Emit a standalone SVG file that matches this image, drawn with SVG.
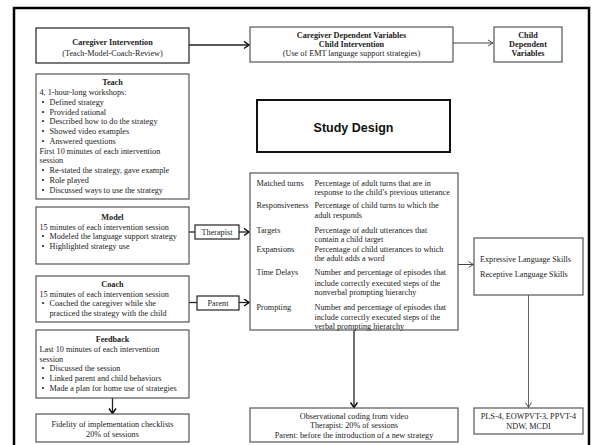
<svg xmlns="http://www.w3.org/2000/svg" width="602" height="445" viewBox="0 0 602 445">
<style>
text{font-family:"Liberation Serif","Times New Roman",serif;font-size:8.2px;fill:#222}
.b{font-weight:bold}
.c{text-anchor:middle}
.box{fill:#fff;stroke:#555;stroke-width:1.2}
.dark{fill:#fff;stroke:#222;stroke-width:1.2}
.ln{fill:none;stroke:#222;stroke-width:1.3}
.thin{fill:none;stroke:#444;stroke-width:1}
.gray{fill:none;stroke:#666;stroke-width:1}
</style>
<defs>
<marker id="ah" markerUnits="userSpaceOnUse" markerWidth="10" markerHeight="10" refX="6" refY="4" orient="auto">
<path d="M1,0.5 L6,4 L1,7.5" fill="none" stroke="#111" stroke-width="1.5"/>
</marker>
<marker id="at" markerUnits="userSpaceOnUse" markerWidth="10" markerHeight="10" refX="6" refY="4" orient="auto">
<path d="M1,1 L6,4 L1,7" fill="none" stroke="#444" stroke-width="0.9"/>
</marker>
</defs>
<rect x="14" y="8" width="575" height="450" fill="#fff" stroke="#000" stroke-width="2.5"/>

<g id="connectors">
<line class="ln" x1="189" y1="45" x2="249" y2="45" marker-end="url(#ah)"/>
<line class="thin" x1="453" y1="43" x2="493" y2="43" marker-end="url(#at)"/>
<line class="ln" x1="189" y1="232" x2="195" y2="232"/>
<line class="ln" x1="239" y1="232" x2="249" y2="232" marker-end="url(#ah)"/>
<line class="ln" x1="189" y1="302.5" x2="197" y2="302.5"/>
<line class="ln" x1="239" y1="302.5" x2="249" y2="302.5" marker-end="url(#ah)"/>
<line class="ln" x1="112.5" y1="398" x2="112.5" y2="413.5" marker-end="url(#ah)"/>
<line class="ln" x1="354" y1="330" x2="354" y2="407.5" stroke-width="1.5" marker-end="url(#ah)"/>
<line class="thin" x1="458" y1="264.5" x2="473.5" y2="264.5" marker-end="url(#at)"/>
<line class="gray" x1="528.5" y1="295" x2="528.5" y2="407.5" marker-end="url(#at)"/>
</g>

<g id="caregiver-intervention">
<rect class="dark" x="36" y="28" width="153" height="35"/>
<text class="b c" x="112.5" y="45">Caregiver Intervention</text>
<text class="c" x="112.5" y="55.5">(Teach-Model-Coach-Review)</text>
</g>

<g id="caregiver-dependent">
<rect class="box" x="250" y="27" width="203" height="35"/>
<text class="b c" x="351.5" y="38">Caregiver Dependent Variables</text>
<text class="b c" x="351.5" y="47">Child Intervention</text>
<text class="c" x="351.5" y="56">(Use of EMT language support strategies)</text>
</g>

<g id="child-dependent">
<rect class="box" x="494" y="27" width="68" height="35"/>
<text class="b c" x="528" y="37.8">Child</text>
<text class="b c" x="528" y="46.8">Dependent</text>
<text class="b c" x="528" y="55.8">Variables</text>
</g>

<g id="study-design">
<rect x="257" y="100" width="193" height="52" fill="#fff" stroke="#111" stroke-width="2"/>
<text x="353.5" y="131.5" text-anchor="middle" style="font-family:'Liberation Sans',Arial,sans-serif;font-size:12.5px;font-weight:bold;fill:#111">Study Design</text>
</g>

<g id="teach">
<rect class="box" x="36" y="74" width="153" height="125"/>
<text class="b c" x="112.5" y="85">Teach</text>
<text x="39.5" y="95">4, 1-hour-long workshops:</text>
<text x="41.5" y="104.8">•</text><text x="49.5" y="104.8">Defined strategy</text>
<text x="41.5" y="114.5">•</text><text x="49.5" y="114.5">Provided rational</text>
<text x="41.5" y="124.3">•</text><text x="49.5" y="124.3">Described how to do the strategy</text>
<text x="41.5" y="134">•</text><text x="49.5" y="134">Showed video examples</text>
<text x="41.5" y="143.8">•</text><text x="49.5" y="143.8">Answered questions</text>
<text x="39.5" y="153.5">First 10 minutes of each intervention</text>
<text x="39.5" y="163.3">session</text>
<text x="41.5" y="173">•</text><text x="49.5" y="173">Re-stated the strategy, gave example</text>
<text x="41.5" y="182.8">•</text><text x="49.5" y="182.8">Role played</text>
<text x="41.5" y="192.5">•</text><text x="49.5" y="192.5">Discussed ways to use the strategy</text>
</g>

<g id="model">
<rect class="box" x="36" y="207" width="153" height="57"/>
<text class="b c" x="112.5" y="219.5">Model</text>
<text x="39.5" y="229.5">15 minutes of each intervention session</text>
<text x="41.5" y="239">•</text><text x="49.5" y="239">Modeled the language support strategy</text>
<text x="41.5" y="248.5">•</text><text x="49.5" y="248.5">Highlighted strategy use</text>
</g>

<g id="therapist">
<rect class="dark" x="195" y="225" width="44" height="14"/>
<text class="c" x="217" y="234.8">Therapist</text>
</g>

<g id="coach">
<rect class="box" x="36" y="276" width="153" height="46"/>
<text class="b c" x="112.5" y="287">Coach</text>
<text x="39.5" y="297">15 minutes of each intervention session</text>
<text x="41.5" y="306.2">•</text><text x="49.5" y="306.2">Coached the caregiver while she</text>
<text x="49.5" y="315.5">practiced the strategy with the child</text>
</g>

<g id="parent">
<rect class="dark" x="197" y="296" width="42" height="14"/>
<text class="c" x="218" y="305.5">Parent</text>
</g>

<g id="feedback">
<rect class="box" x="36" y="330" width="153" height="68"/>
<text class="b c" x="112.5" y="342">Feedback</text>
<text x="39.5" y="352">Last 10 minutes of each intervention</text>
<text x="39.5" y="361.7">session</text>
<text x="41.5" y="371.3">•</text><text x="49.5" y="371.3">Discussed the session</text>
<text x="41.5" y="380.8">•</text><text x="49.5" y="380.8">Linked parent and child behaviors</text>
<text x="41.5" y="390.5">•</text><text x="49.5" y="390.5">Made a plan for home use of strategies</text>
</g>

<g id="fidelity">
<rect class="box" x="36" y="414" width="153" height="28"/>
<text class="c" x="112.5" y="427">Fidelity of implementation checklists</text>
<text class="c" x="112.5" y="436.7">20% of sessions</text>
</g>

<g id="measures">
<rect class="box" x="250" y="173" width="208" height="157"/>
<text x="256.5" y="185.5">Matched turns</text>
<text x="314.5" y="185.5">Percentage of adult turns that are in</text>
<text x="314.5" y="195">response to the child’s previous utterance</text>
<text x="256.5" y="207.8">Responsiveness</text>
<text x="314.5" y="207.8">Percentage of child turns to which the</text>
<text x="314.5" y="217.8">adult responds</text>
<text x="256.5" y="232.8">Targets</text>
<text x="314.5" y="232.8">Percentage of adult utterances that</text>
<text x="314.5" y="242">contain a child target</text>
<text x="256.5" y="252">Expansions</text>
<text x="314.5" y="252">Percentage of child utterances to which</text>
<text x="314.5" y="261">the adult adds a word</text>
<text x="256.5" y="275">Time Delays</text>
<text x="314.5" y="275">Number and percentage of episodes that</text>
<text x="314.5" y="285.5">include correctly executed steps of the</text>
<text x="314.5" y="295">nonverbal prompting hierarchy</text>
<text x="256.5" y="309.5">Prompting</text>
<text x="314.5" y="309.5">Number and percentage of episodes that</text>
<text x="314.5" y="319.5">include correctly executed steps of the</text>
<text x="314.5" y="328.5">verbal prompting hierarchy</text>
</g>

<g id="observational">
<rect class="box" x="250" y="408" width="208" height="34"/>
<text class="c" x="354" y="418.5">Observational coding from video</text>
<text class="c" x="354" y="427.8">Therapist: 20% of sessions</text>
<text class="c" x="354" y="437.5">Parent: before the introduction of a new strategy</text>
</g>

<g id="language-skills">
<rect class="box" x="474" y="238" width="109" height="57"/>
<text x="480" y="262">Expressive Language Skills</text>
<text x="480" y="276.5">Receptive Language Skills</text>
</g>

<g id="measures-child">
<rect class="box" x="474" y="408" width="109" height="26"/>
<text class="c" x="528.5" y="419">PLS-4, EOWPVT-3, PPVT-4</text>
<text class="c" x="528.5" y="428.5">NDW, MCDI</text>
</g>
</svg>
